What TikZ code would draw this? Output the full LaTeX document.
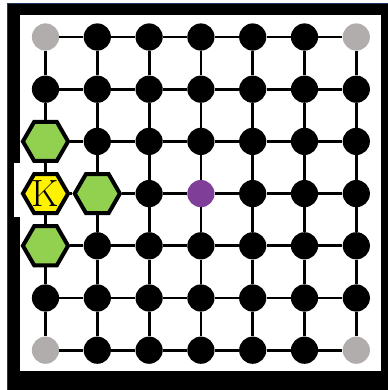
\documentclass[tikz,border=0pt]{standalone}
\usepackage{tikz}
\usetikzlibrary{shapes.geometric}
\definecolor{hexgreen}{HTML}{92D050}
\definecolor{cornergray}{HTML}{B0ADAC}
\definecolor{centerpurple}{HTML}{7F3F98}
\definecolor{framenavy}{HTML}{1F3864}

\begin{document}
\begin{tikzpicture}[x=0.25mm, y=-0.25mm,
    site/.style={circle, fill=black, minimum size=6.8mm, inner sep=0pt},
    hexcell/.style={regular polygon, regular polygon sides=6, draw=black, line width=1mm, fill=hexgreen, minimum size=11.3mm, inner sep=0pt},
    link/.style={line width=0.7mm},
    % special cells of the lattice
    cell-0-0/.style={fill=cornergray},
    cell-6-0/.style={fill=cornergray},
    cell-0-6/.style={fill=cornergray},
    cell-6-6/.style={fill=cornergray},
    cell-3-3/.style={fill=centerpurple},
    cell-0-2/.style={hexcell},
    cell-0-4/.style={hexcell},
    cell-1-3/.style={hexcell},
    cell-0-3/.style={hexcell, fill=yellow, label={[font=\fontsize{27}{27}\selectfont]center:K}},
]
    \useasboundingbox (0,0) rectangle (388,390);

    % frame
    \fill[black] (7,3) rectangle (388,390);
    \draw[framenavy, line width=0.2mm] (7.2,390) -- (7.2,3.2) -- (388,3.2);
    \fill[white] (20,15) rectangle (381,371);
    \fill[white] (14,163) rectangle (70,217);

    % lattice sites
    \foreach \i in {0,...,6}
        \foreach \j in {0,...,6}
            \node[site, cell-\i-\j/.try] (s-\i-\j) at ({45.5+51.8*\i}, {37+52.2*\j}) {};

    % bonds
    \foreach \i [count=\n from 1] in {0,...,5}
        \foreach \j in {0,...,6} {
            \draw[link] (s-\i-\j) -- (s-\n-\j);
            \draw[link] (s-\j-\i) -- (s-\j-\n);
        }
\end{tikzpicture}
\end{document}
